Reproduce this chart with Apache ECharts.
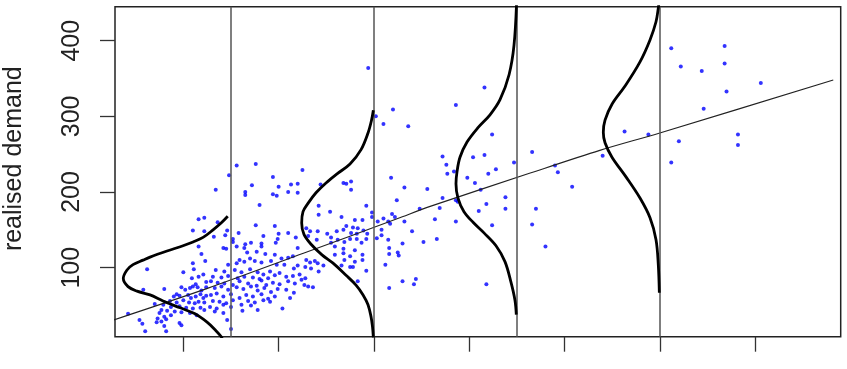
<!DOCTYPE html>
<html>
<head>
<meta charset="utf-8">
<script src="https://cdn.jsdelivr.net/npm/echarts@6/dist/echarts.min.js"></script>
<style>html,body{margin:0;padding:0;background:#fff;}#chart{width:847px;height:369px;}</style>
</head>
<body>
<div id="chart"></div>
<script>
// ---- data ----
const xTicks = [1, 2, 3, 4, 5, 6, 7];
const yTicks = [100, 200, 300, 400];
const yAxisTitle = 'realised demand';
const cutPoints = [1.5, 3, 4.5, 6];

const observations = [
  [1.16,164],[1.22,166],[1.10,149],[1.22,148],[1.34,203],
  [1.16,128],[1.19,118],[1.23,109],[1.10,106],[1.11,98],[0.62,98],[1.00,94],[1.09,86],[1.16,88],[1.21,91],[1.24,81],[1.13,78],
  [0.58,71],[0.80,72],[0.98,74],[1.02,71],[1.07,73],[1.10,75],[1.15,74],[1.19,70],[1.24,74],[0.93,65],[0.90,62],[0.96,63],
  [1.05,64],[1.08,60],[1.13,62],[1.18,65],[1.21,60],[1.24,63],[0.86,56],[0.93,54],[1.00,57],[1.06,54],[1.12,53],[1.16,55],
  [1.22,54],[0.70,52],[0.79,51],[0.87,48],[0.96,49],[1.03,47],[1.10,46],[1.18,47],[1.22,44],[0.77,44],[0.83,43],[0.91,42],
  [0.98,41],[1.07,40],[0.42,39],[0.75,40],[0.80,35],[0.87,37],[1.14,37],[0.73,33],[0.77,29],[0.82,32],[0.54,31],[0.57,26],
  [0.72,28],[0.80,23],[0.96,27],[0.98,24],[0.60,16],[0.82,16],
  [1.56,235],[1.76,237],[1.48,222],[1.94,220],[1.72,209],[2.00,207],[2.13,210],[2.20,211],[1.65,200],[1.65,196],[1.94,197],
  [1.98,195],[2.10,200],[2.20,199],[1.80,183],[1.36,160],[1.76,156],[1.96,155],[1.46,149],[1.58,146],[2.10,146],[2.00,145],
  [1.84,142],[1.32,141],[1.44,143],[1.52,138],[1.52,134],[1.99,138],[2.18,140],[1.71,133],[1.82,132],[1.97,133],[1.65,131],[2.25,229],
  [1.42,126],[1.45,125],[1.56,128],[1.64,126],[1.67,120],[1.77,121],[1.82,128],[1.86,118],[1.96,117],[2.20,126],[2.15,115],
  [2.10,113],[2.03,112],[1.70,112],[1.59,110],[1.47,104],[1.56,106],[1.64,108],[1.75,109],[1.82,107],[1.92,109],[1.98,104],
  [2.06,104],[2.16,99],[2.20,103],
  [1.34,97],[1.43,95],[1.54,97],[1.61,94],[1.70,98],[1.78,94],[1.84,91],[1.91,95],[1.96,90],[2.01,93],[2.08,88],[2.15,89],
  [2.22,91],[1.31,88],[1.40,87],[1.47,89],[1.57,86],[1.64,88],[1.73,87],[1.80,85],[1.89,86],
  [1.29,82],[1.36,80],[1.43,79],[1.52,77],[1.59,82],[1.68,79],[1.77,76],[1.82,83],[1.87,77],[1.94,80],[2.01,78],[2.10,82],
  [2.17,79],[2.24,84],
  [1.33,73],[1.40,75],[1.47,71],[1.56,74],[1.63,72],[1.71,75],[1.78,70],[1.85,73],[1.92,68],[1.99,72],[2.08,71],[2.16,67],
  [1.29,64],[1.35,66],[1.42,62],[1.50,65],[1.59,60],[1.66,64],[1.73,62],[1.82,65],[1.89,59],[1.96,62],[2.12,60],
  [1.31,56],[1.38,55],[1.45,53],[1.52,57],[1.68,56],[1.75,54],[1.84,57],[1.91,55],[2.04,46],
  [1.28,48],[1.35,46],[1.42,51],[1.50,48],[1.61,51],[1.71,50],[1.33,42],[1.42,40],[1.62,43],[1.78,44],[1.46,31],[1.50,19],
  [2.44,210],[2.68,212],[2.71,211],[2.76,214],[2.76,203],[3.18,219],[2.42,182],[2.54,174],[2.42,170],[2.92,182],[2.66,167],
  [2.80,163],[2.88,163],[2.98,173],[2.98,167],[3.04,161],[3.10,165],[3.19,171],[3.24,189],[3.15,161],[3.22,167],[2.71,155],
  [2.78,153],[2.83,152],[2.61,148],[2.68,150],[2.41,148],[2.29,152],[2.33,148],[2.51,145],[2.55,140],[2.76,146],[2.82,145],
  [2.89,149],[2.93,145],[3.08,150],[3.08,143],[3.17,158],[3.03,139],[2.31,142],[2.40,137],[2.62,137],[2.69,134],[2.75,138],
  [2.82,138],[2.87,133],[3.15,137],[2.92,138],[2.55,133],
  [2.59,128],[2.68,125],[2.80,123],[2.68,119],[2.59,117],[2.75,115],[2.88,117],[2.29,110],[2.33,107],[2.38,109],[2.41,106],
  [2.69,110],[2.88,110],[2.80,108],[2.47,103],[2.66,103],[2.75,101],[2.78,101],[2.28,101],[2.34,99],[2.42,95],[2.92,96],
  [3.16,126],[3.16,118],[3.12,104],[2.28,86],[2.83,82],[2.27,77],[2.31,75],[2.36,74],[3.16,73],
  [2.94,364],[3.02,300],[3.10,290],[3.20,309],[3.36,287],[4.16,338],[3.86,315],[4.24,276],[3.72,247],[3.76,236],[3.77,224],
  [3.84,227],[4.04,246],[4.16,249],[4.20,224],[4.28,230],[4.47,239],[3.98,219],[4.06,212],[4.12,203],[3.32,206],[3.56,204],
  [3.72,192],[3.86,189],[3.88,187],[3.48,178],[3.69,179],[4.18,184],[4.38,193],[4.38,178],[4.10,175],[3.32,161],[3.64,164],
  [3.86,161],[4.24,156],[3.40,148],[3.52,134],[3.66,138],[3.30,132],[3.25,120],[3.26,116],[3.30,82],[3.44,85],[3.42,78],
  [4.18,78],[4.66,253],[4.90,235],[4.93,226],[5.08,207],[4.70,178],[4.66,157],[4.80,128],[5.63,280],[5.40,248],[5.88,276],
  [6.12,390],[6.68,393],[6.22,366],[6.44,360],[6.68,370],[7.06,344],[6.70,333],[6.46,310],[6.82,276],[6.20,267],[6.82,262],[6.12,239]
];

const fitX = [0.27, 1.26, 2.26, 3.25, 3.59, 4.64, 5.37, 6.0, 7.82];
const fitY = [31, 73, 119, 165, 181, 225, 255, 278, 348];

const density1 = [
  [1.466,168],[1.396,159],[1.312,150],[1.207,140],[1.102,134],[0.997,129],[0.829,122],[0.651,114],[0.577,110],
  [0.472,104],[0.409,97],[0.370,86],[0.420,75],[0.514,69],[0.651,64],[0.787,56],[0.966,47],[1.123,39],[1.249,28],
  [1.333,18],[1.396,9],[1.427,1]
];
const density2 = [
  [2.994,308],[2.975,295],[2.938,278],[2.865,256],[2.749,237],[2.613,224],[2.497,212],[2.392,199],[2.308,185],
  [2.256,174],[2.242,159],[2.266,144],[2.340,131],[2.455,117],[2.571,106],[2.707,90],[2.812,77],[2.886,64],
  [2.938,51],[2.970,35],[2.985,22],[2.994,8]
];
const density3 = [
  [4.498,454],[4.470,394],[4.418,355],[4.323,322],[4.218,302],[4.092,285],[3.977,266],[3.903,246],[3.872,227],
  [3.861,211],[3.882,192],[3.945,174],[4.040,160],[4.155,146],[4.281,129],[4.375,108],[4.438,81],[4.480,57],[4.494,38]
];
const density4 = [
  [5.995,454],[5.984,443],[5.960,425],[5.897,401],[5.792,372],[5.635,340],[5.498,316],[5.425,295],[5.407,279],
  [5.425,265],[5.498,246],[5.645,220],[5.792,192],[5.897,166],[5.960,137],[5.984,104],[5.995,67]
];

// ---- chart ----
const chart = echarts.init(document.getElementById('chart'), null, {renderer: 'canvas'});
const fontFamily = 'Liberation Sans';
const densityStyle = {color: '#000', width: 2.8};
function densitySeries(d) {
  return {type: 'line', data: d, showSymbol: false, smooth: 0.35, clip: true,
          lineStyle: densityStyle, z: 5, silent: true};
}

chart.setOption({
  animation: false,
  backgroundColor: '#fff',
  textStyle: {fontFamily: fontFamily, fontSize: 25},
  grid: {left: 115, right: 6.3, top: 6.7, bottom: 32.3, show: true, containLabel: false,
         outerBoundsMode: 'none',
         borderColor: '#222', borderWidth: 1.5, backgroundColor: 'transparent'},
  xAxis: {
    type: 'value', min: 0.283, max: 7.898,
    axisLine: {show: false},
    splitLine: {show: false},
    axisLabel: {show: false},
    axisTick: {show: true, customValues: xTicks, length: 15, inside: false,
               lineStyle: {color: '#333', width: 1.3}}
  },
  yAxis: {
    type: 'value', min: 8.8, max: 444.9,
    axisLine: {show: false},
    splitLine: {show: false},
    axisTick: {show: true, customValues: yTicks, length: 15, inside: false,
               lineStyle: {color: '#333', width: 1.3}},
    axisLabel: {show: true, customValues: yTicks, rotate: 90, margin: 30,
                fontSize: 25, color: '#222', fontFamily: fontFamily},
    name: yAxisTitle, nameLocation: 'middle', nameGap: 88,
    nameTextStyle: {fontSize: 25, color: '#222', fontFamily: fontFamily, padding: [0, 0, 0, 26]}
  },
  series: [
    {type: 'scatter', data: observations, symbol: 'circle', symbolSize: 4,
     itemStyle: {color: '#0000ff'}, z: 2, silent: true},
    {type: 'line', data: fitX.map((x, i) => [x, fitY[i]]), showSymbol: false, smooth: 0.3,
     lineStyle: {color: '#222', width: 1.1}, z: 4, silent: true,
     markLine: {silent: true, symbol: ['none', 'none'], label: {show: false},
                lineStyle: {color: '#555', width: 1.5, type: 'solid'},
                data: cutPoints.map(v => ({xAxis: v}))}},
    densitySeries(density1),
    densitySeries(density2),
    densitySeries(density3),
    densitySeries(density4)
  ]
});
</script>
</body>
</html>
